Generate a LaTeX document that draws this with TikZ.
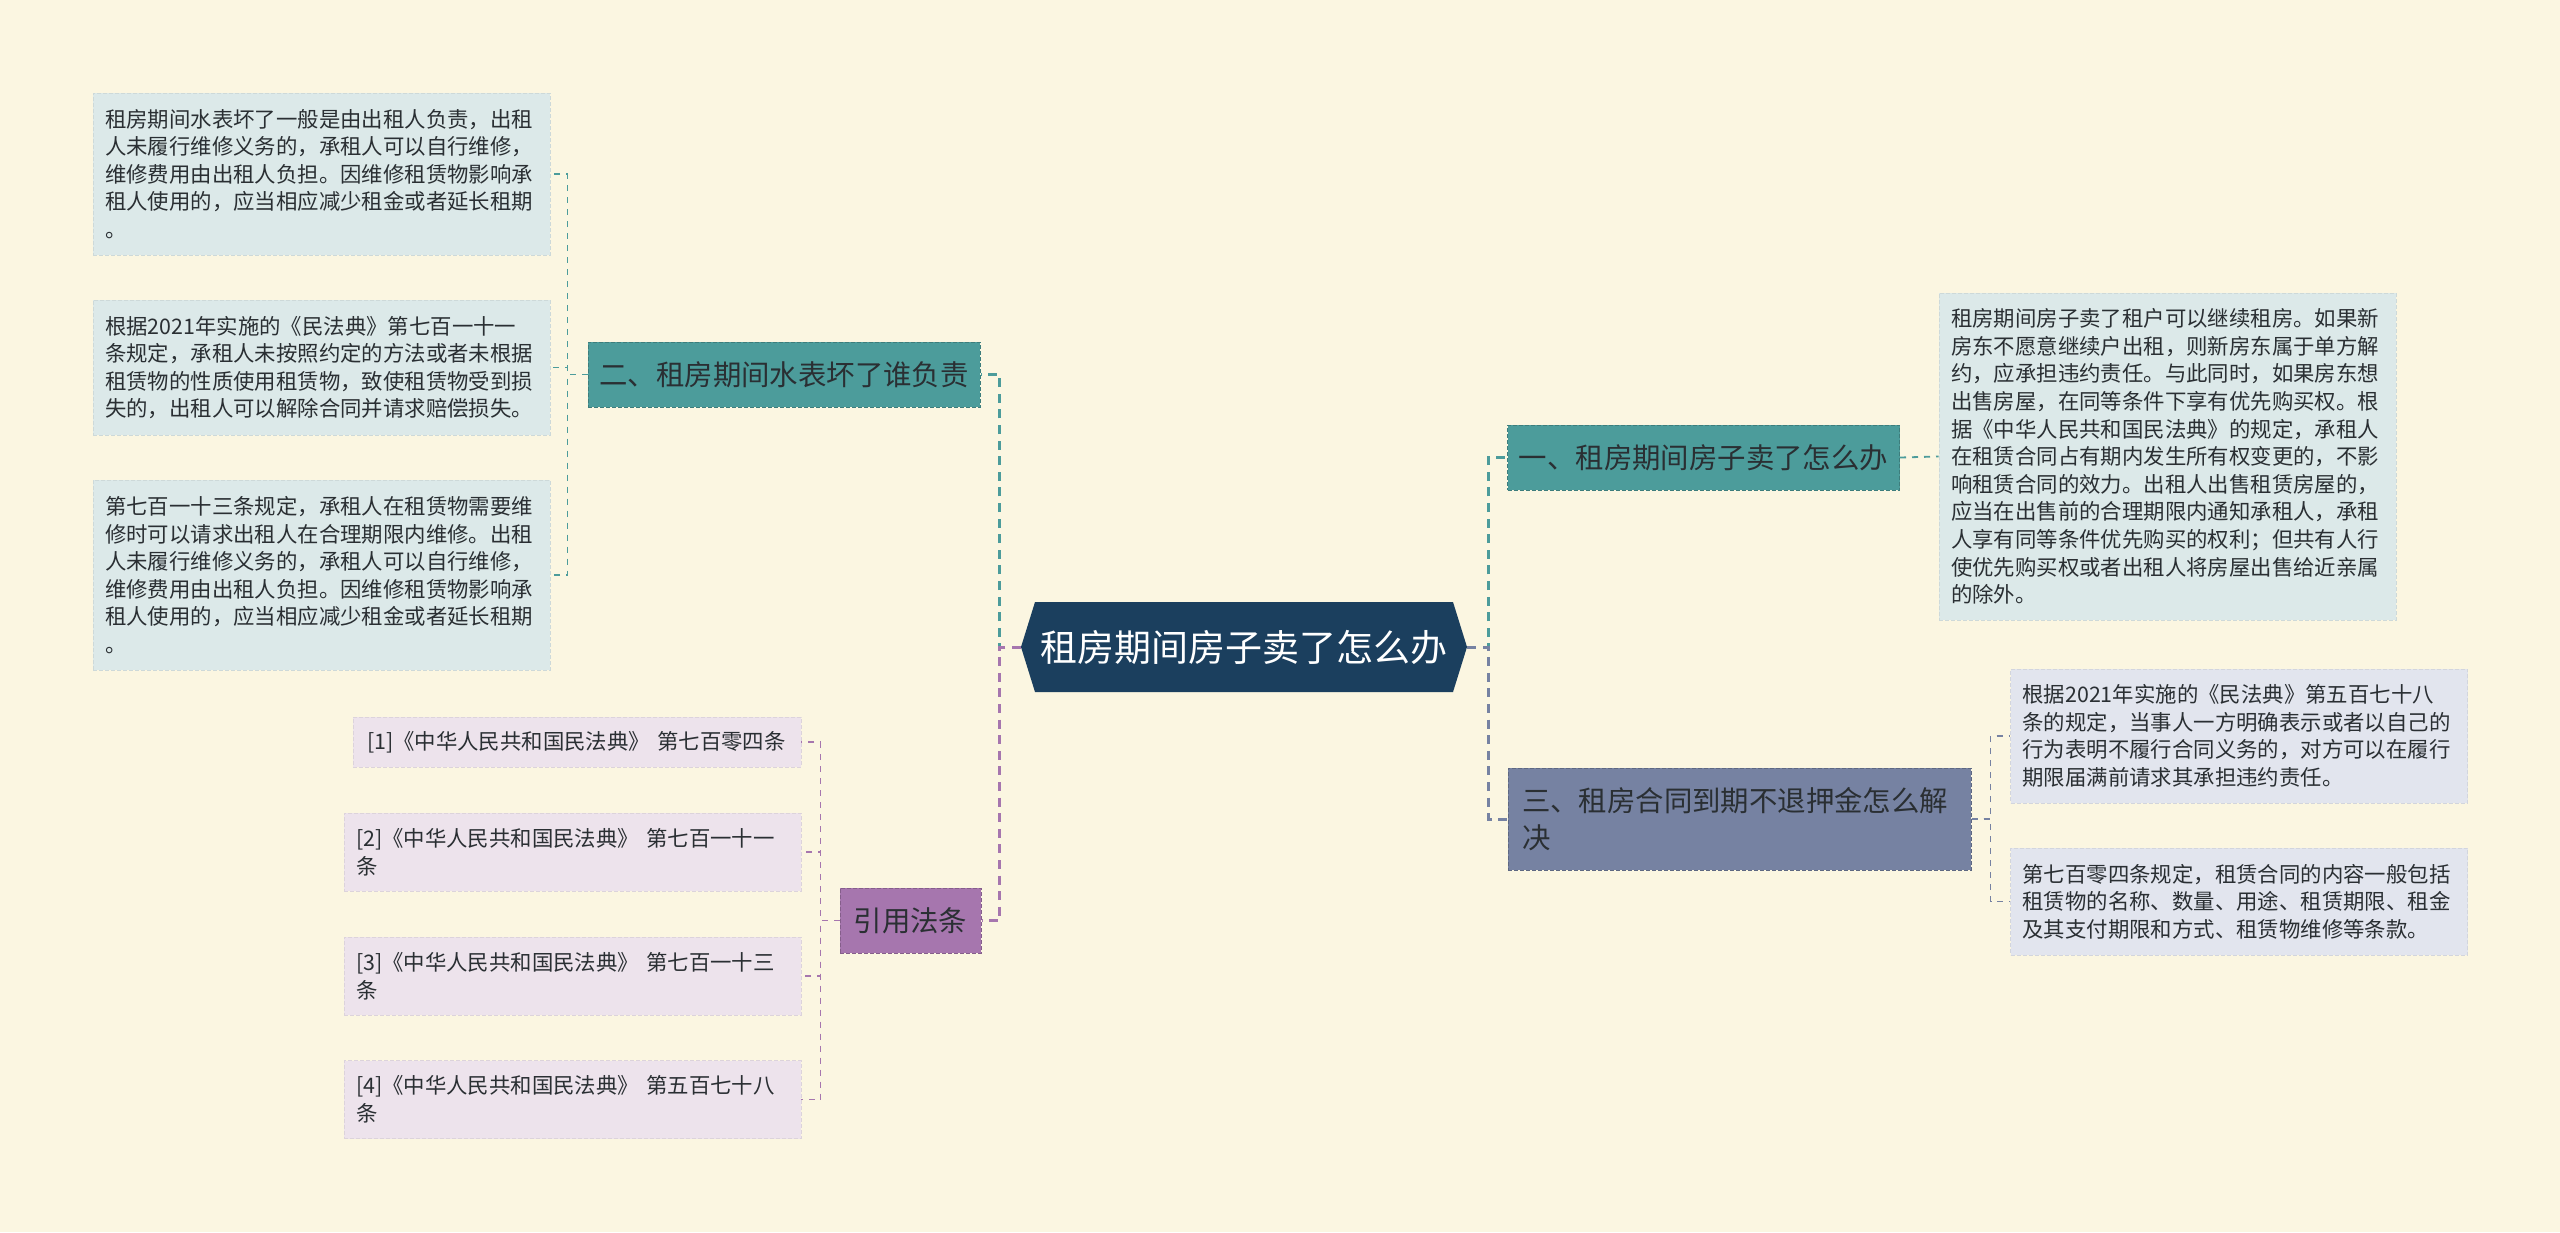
\documentclass[tikz,border=0pt]{standalone}
\usepackage{fontspec}
\setmainfont{Noto Sans CJK SC}

\definecolor{paper}{HTML}{FBF6E1}
\definecolor{hubblue}{HTML}{1B3F5E}
\definecolor{teal1}{HTML}{4C9C9B}
\definecolor{teal2}{HTML}{DCE9E9}
\definecolor{slate1}{HTML}{7682A2}
\definecolor{slate2}{HTML}{E2E5EE}
\definecolor{plum1}{HTML}{A676AE}
\definecolor{plum2}{HTML}{EDE3EC}
\definecolor{inkdark}{HTML}{2A2F33}

\begin{document}
\begin{tikzpicture}[x=0.5pt, y=-0.5pt,
    hub/.style={text=white, font=\fontsize{18.5}{22}\selectfont,
        minimum width=223pt, minimum height=45pt, inner sep=0pt,
        path picture={\fill[hubblue]
            ([xshift=7pt]path picture bounding box.north west) --
            ([xshift=-7pt]path picture bounding box.north east) --
            (path picture bounding box.east) --
            ([xshift=-7pt]path picture bounding box.south east) --
            ([xshift=7pt]path picture bounding box.south west) --
            (path picture bounding box.west) -- cycle;}},
    branch/.style={fill=#1, draw=#1!80!black, dash pattern=on 2pt off 1pt,
        line width=0.5pt, text=inkdark, font=\fontsize{14.2}{18.5}\selectfont,
        minimum height=32.5pt, inner sep=0pt},
    leaf/.style={fill=#1, draw=#1!93!black, dash pattern=on 2pt off 1pt,
        line width=0.4pt, text=inkdark, font=\fontsize{10.7}{13.8}\selectfont,
        text width=216.5pt, inner xsep=6pt, inner ysep=0pt, align=left},
    limb/.style={draw=#1, line width=1.5pt, dash pattern=on 4.5pt off 3.3pt},
    twig/.style={draw=#1, line width=0.9pt, dash pattern=on 3pt off 3pt}]

    \useasboundingbox[fill=paper] (0,0) rectangle (2560,1232);

    % centre
    \node[hub] (root) at (1244,647) {租房期间房子卖了怎么办};

    % branches
    \node[branch=teal1, minimum width=196pt] (b2) at (784,374.5) {二、租房期间水表坏了谁负责};
    \node[branch=teal1, minimum width=196pt] (b1) at (1703.5,457.5) {一、租房期间房子卖了怎么办};
    \node[branch=slate1, text width=217.5pt, inner xsep=7pt, minimum height=51pt,
        align=left] (b3) at (1739.5,819) {三、租房合同到期不退押金怎么解\\决};
    \node[branch=plum1, minimum width=70.5pt] (b4) at (910.5,920.5) {引用法条};

    % leaves of b2
    \node[leaf=teal2, minimum height=81pt] (c21) at (321.5,174) {租房期间水表坏了一般是由出租人负责，出租\\人未履行维修义务的，承租人可以自行维修，\\维修费用由出租人负担。因维修租赁物影响承\\租人使用的，应当相应减少租金或者延长租期\\。};
    \node[leaf=teal2, minimum height=67.5pt] (c22) at (321.5,367.5) {根据2021年实施的《民法典》第七百一十一\\条规定，承租人未按照约定的方法或者未根据\\租赁物的性质使用租赁物，致使租赁物受到损\\失的，出租人可以解除合同并请求赔偿损失。};
    \node[leaf=teal2, minimum height=95pt] (c23) at (321.5,575) {第七百一十三条规定，承租人在租赁物需要维\\修时可以请求出租人在合理期限内维修。出租\\人未履行维修义务的，承租人可以自行维修，\\维修费用由出租人负担。因维修租赁物影响承\\租人使用的，应当相应减少租金或者延长租期\\。};

    % leaf of b1
    \node[leaf=teal2, minimum height=163.5pt] (c11) at (2167.5,456.5) {租房期间房子卖了租户可以继续租房。如果新\\房东不愿意继续户出租，则新房东属于单方解\\约，应承担违约责任。与此同时，如果房东想\\出售房屋，在同等条件下享有优先购买权。根\\据《中华人民共和国民法典》的规定，承租人\\在租赁合同占有期内发生所有权变更的，不影\\响租赁合同的效力。出租人出售租赁房屋的，\\应当在出售前的合理期限内通知承租人，承租\\人享有同等条件优先购买的权利；但共有人行\\使优先购买权或者出租人将房屋出售给近亲属\\的除外。};

    % leaves of b3
    \node[leaf=slate2, minimum height=67pt] (c31) at (2239,736) {根据2021年实施的《民法典》第五百七十八\\条的规定，当事人一方明确表示或者以自己的\\行为表明不履行合同义务的，对方可以在履行\\期限届满前请求其承担违约责任。};
    \node[leaf=slate2, minimum height=53.5pt] (c32) at (2239,901.5) {第七百零四条规定，租赁合同的内容一般包括\\租赁物的名称、数量、用途、租赁期限、租金\\及其支付期限和方式、租赁物维修等条款。};

    % leaves of b4
    \node[leaf=plum2, text width=210pt, inner xsep=7pt, minimum height=25pt] (c41) at (577,742) {[1]《中华人民共和国民法典》 第七百零四条};
    \node[leaf=plum2, minimum height=39pt] (c42) at (572.5,852) {[2]《中华人民共和国民法典》 第七百一十一\\条};
    \node[leaf=plum2, minimum height=39pt] (c43) at (572.5,976) {[3]《中华人民共和国民法典》 第七百一十三\\条};
    \node[leaf=plum2, minimum height=39pt] (c44) at (572.5,1099.5) {[4]《中华人民共和国民法典》 第五百七十八\\条};

    % connectors
    \draw[limb=teal1] (root.west) -- ++(-21,0) |- (b2.east);
    \draw[limb=plum1] (root.west) -- ++(-21,0) |- (b4.east);
    \draw[limb=teal1] (root.east) -- ++(21,0) |- (b1.west);
    \draw[limb=slate1] (root.east) -- ++(21,0) |- (b3.west);

    \foreach \c in {c21,c22,c23}
        \draw[twig=teal1] (b2.west) -- ++(-20,0) |- (\c.east);
    \draw[twig=teal1] (b1.east) -- (c11.west);
    \foreach \c in {c31,c32}
        \draw[twig=slate1] (b3.east) -- ++(19,0) |- (\c.west);
    \foreach \c in {c41,c42,c43,c44}
        \draw[twig=plum1] (b4.west) -- ++(-19,0) |- (\c.east);
\end{tikzpicture}
\end{document}
